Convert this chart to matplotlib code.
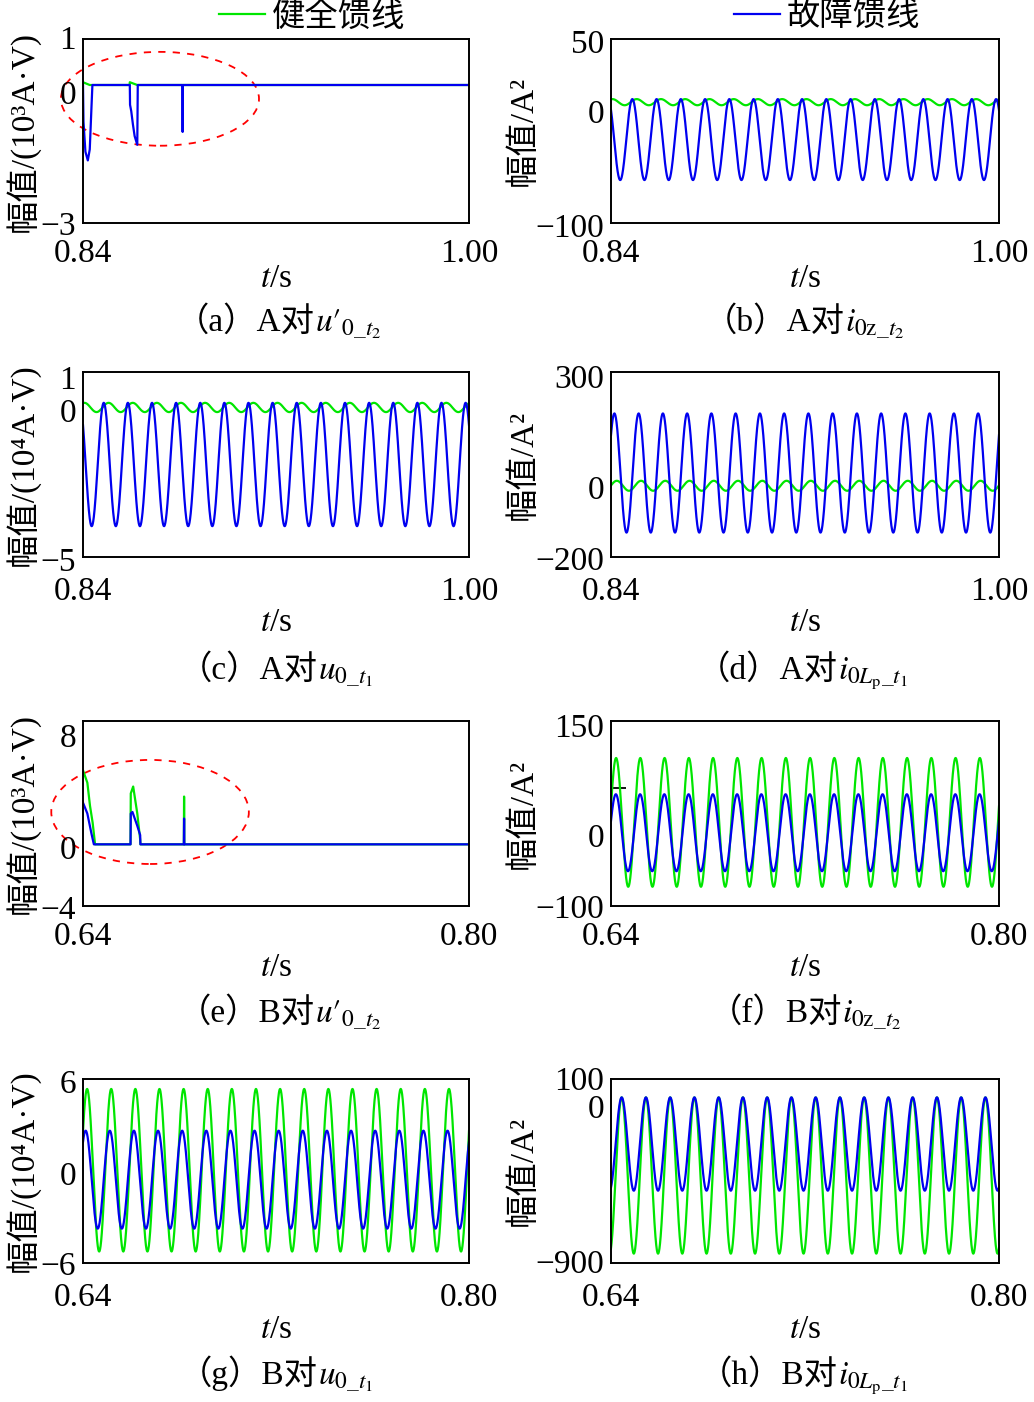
import numpy as np
import matplotlib
matplotlib.use("Agg")
import matplotlib.pyplot as plt
import matplotlib.transforms as mtransforms
from matplotlib.patches import Ellipse
from matplotlib.lines import Line2D

plt.rcParams['font.family'] = ['Liberation Serif', 'Noto Sans CJK SC', 'DejaVu Sans']
plt.rcParams['mathtext.fontset'] = 'stix'
plt.rcParams['font.size'] = 24

GREEN = '#00e600'
BLUE = '#0000f0'

period = 0.01  # both feeders oscillate at 100 Hz

# (a) A, u'0_t2 : read as polylines
a_fault_t = [0.8400, 0.8402, 0.8410, 0.8420, 0.8428, 0.8435, 0.8439, 0.8594, 0.8595,
             0.8600, 0.8607, 0.8614, 0.8625, 0.8627, 0.8812, 0.8813, 0.8814, 1.0000]
a_fault_v = [0, -0.8, -1.45, -1.64, -1.4, -0.5, 0, 0, -0.43,
             -0.57, -0.86, -1.11, -1.30, 0, 0, -1.02, 0, 0]
a_healthy_t = [0.8400, 0.8428, 0.8593, 0.8594, 0.8625, 1.0000]
a_healthy_v = [0.06, 0, 0, 0.06, 0, 0]

# (e) B, u'0_t2
e_healthy_t = [0.6400, 0.6418, 0.6429, 0.6440, 0.6450, 0.6597, 0.6598, 0.6608, 0.6625,
               0.6637, 0.6638, 0.6818, 0.6819, 0.6820, 0.8000]
e_healthy_v = [4.8, 4.0, 2.5, 1.4, 0, 0, 3.3, 3.75, 2.0, 0.3, 0, 0, 3.1, 0, 0]
e_fault_t = [0.6400, 0.6418, 0.6435, 0.6445, 0.6597, 0.6598, 0.6605, 0.6625, 0.6637,
             0.6638, 0.6818, 0.6819, 0.6820, 0.8000]
e_fault_v = [2.7, 2.0, 0.7, 0, 0, 2.0, 2.1, 1.2, 0.6, 0, 0, 1.67, 0, 0]

# periodic panels: first crest time, crest value, trough value  [healthy, fault]
b_tc, b_hi, b_lo = [0.8506, 0.8488], [1, 1], [-4, -65]
c_tc, c_hi, c_lo = [0.8506, 0.8486], [0, 0], [-0.3, -4]
d_tc, d_hi, d_lo = [0.8424, 0.8414], [6, 188], [-21, -134]
f_tc, f_hi, f_lo = [0.6421, 0.6420], [100, 51], [-74, -53]
g_tc, g_hi, g_lo = [0.6417, 0.6411], [5.35, 2.63], [-5.25, -3.76]
h_tc, h_hi, h_lo = [0.6444, 0.6444], [0, 0], [-849, -507]

ylims = {'a': (-3, 1), 'b': (-100, 50), 'c': (-5, 1), 'd': (-200, 300),
         'e': (-4, 8), 'f': (-100, 150), 'g': (-6, 6), 'h': (-900, 100)}

cap_prefix = {'a': '（a）A对', 'b': '（b）A对', 'c': '（c）A对', 'd': '（d）A对',
              'e': '（e）B对', 'f': '（f）B对', 'g': '（g）B对', 'h': '（h）B对'}
cap_math = {
    'a': r"$u\prime_{0\_t_2}$",
    'b': r"$i_{0\mathrm{z}\_t_2}$",
    'c': r"$u_{0\_t_1}$",
    'd': r"$i_{0L_{\mathrm{p}}\_t_1}$",
    'e': r"$u\prime_{0\_t_2}$",
    'f': r"$i_{0\mathrm{z}\_t_2}$",
    'g': r"$u_{0\_t_1}$",
    'h': r"$i_{0L_{\mathrm{p}}\_t_1}$",
}

W, H = 1034, 1402
fig = plt.figure(figsize=(W / 100, H / 100), dpi=100)

col_left = [83, 611]
col_w = [386, 388]
row_top = [39, 372, 721, 1079]
row_h = [184, 185, 185, 184]
xlab_off = [56, 66, 62, 67]
xtick_pad = [11, 14, 11, 14]
cap_base = [331, 679, 1022, 1384]
cap_join = {'a': 315, 'b': 845, 'c': 318, 'd': 838,
            'e': 315, 'f': 842, 'g': 318, 'h': 838}
# downward pixel nudges of the y tick labels (bottom, zero, top), as in the source figure
label_dy = {'a': (0, 7, -2), 'b': (2, 11, 2), 'c': (2, 7, 5), 'd': (1, 4, 4),
            'e': (1, 3, 14), 'f': (0, 3, 4), 'g': (0, 2, 2), 'h': (-2, 9, -1)}


def wave(t0, tc, hi, lo):
    t = np.linspace(t0, t0 + 0.16, 4000)
    return t, lo + (hi - lo) * 0.5 * (1 + np.cos(2 * np.pi * (t - tc) / period))


axes = {}
for i, key in enumerate('abcdefgh'):
    r, c = i // 2, i % 2
    left = col_left[c] / W
    bottom = 1 - (row_top[r] + row_h[r]) / H
    ax = fig.add_axes([left, bottom, col_w[c] / W, row_h[r] / H])
    axes[key] = ax
    t0 = 0.84 if r < 2 else 0.64

    if key == 'a':
        ax.plot(a_healthy_t, a_healthy_v, color=GREEN, lw=1.6)
        ax.plot(a_fault_t, a_fault_v, color=BLUE, lw=1.6)
    elif key == 'e':
        ax.plot(e_healthy_t, e_healthy_v, color=GREEN, lw=1.6)
        ax.plot(e_fault_t, e_fault_v, color=BLUE, lw=1.6)
    else:
        tc, hi, lo = {'b': (b_tc, b_hi, b_lo), 'c': (c_tc, c_hi, c_lo),
                      'd': (d_tc, d_hi, d_lo), 'f': (f_tc, f_hi, f_lo),
                      'g': (g_tc, g_hi, g_lo), 'h': (h_tc, h_hi, h_lo)}[key]
        for k, col in enumerate([GREEN, BLUE]):
            t, y = wave(t0, tc[k], hi[k], lo[k])
            ax.plot(t, y, color=col, lw=1.6)

    ax.set_xlim(t0, t0 + 0.16)
    lo_lim, hi_lim = ylims[key]
    ax.set_ylim(lo_lim, hi_lim)
    ax.set_xticks([t0, t0 + 0.16])
    ax.set_xticklabels(['%.2f' % t0, '%.2f' % (t0 + 0.16)])
    ax.set_yticks([lo_lim, 0, hi_lim])
    ax.set_yticklabels([('%d' % lo_lim).replace('-', '−'), '0', '%d' % hi_lim])
    ax.tick_params(axis='both', which='major', length=0, labelsize=24)
    ax.tick_params(axis='y', which='major', pad=5)
    ax.tick_params(axis='x', which='major', pad=xtick_pad[r])
    for lab, dy in zip(ax.get_yticklabels(), label_dy[key]):
        shift = mtransforms.ScaledTranslation(0, -dy / 100, fig.dpi_scale_trans)
        lab.set_transform(lab.get_transform() + shift)
    # short inward tick mark
    ax.set_yticks([60 if key == 'f' else 0], minor=True)
    ax.tick_params(axis='y', which='minor', direction='in', length=11, width=1.3)
    for s in ax.spines.values():
        s.set_linewidth(1.4)

    ax.set_xlabel('$t$/s', fontsize=24, va='center')
    ax.xaxis.set_label_coords(0.5, -xlab_off[r] / row_h[r])
    if c == 0:
        ax.set_ylabel('幅值/(10%sA·V)' % ('³' if key in 'ae' else '⁴'), fontsize=24, va='center')
        ax.yaxis.set_label_coords(-61 / col_w[c], 0.5)
    else:
        ax.set_ylabel('幅值/A²', fontsize=24, va='center')
        ax.yaxis.set_label_coords(-88 / col_w[c], 0.5)

    yb = 1 - cap_base[r] / H
    fig.text(cap_join[key] / W, yb, cap_prefix[key], ha='right', va='baseline', fontsize=24)
    fig.text(cap_join[key] / W, yb, cap_math[key], ha='left', va='baseline', fontsize=24)

# red dashed marks around the transient pulses
axes['a'].add_patch(Ellipse((0.8719, -0.30), 0.0821, 2.04, fill=False, ec='red',
                            ls=(0, (4, 4)), lw=1.3, clip_on=False))
axes['e'].add_patch(Ellipse((0.6678, 2.1), 0.0819, 6.75, fill=False, ec='red',
                            ls=(0, (4, 4)), lw=1.3, clip_on=False))

h1 = Line2D([], [], color=GREEN, lw=1.6)
h2 = Line2D([], [], color=BLUE, lw=1.6)
fig.legend([h1], ['健全馈线'], loc='center', bbox_to_anchor=(312 / W, 1 - 17 / H),
           frameon=False, handlelength=1.4, handletextpad=0.2, fontsize=24)
fig.legend([h2], ['故障馈线'], loc='center', bbox_to_anchor=(827 / W, 1 - 17 / H),
           frameon=False, handlelength=1.4, handletextpad=0.2, fontsize=24)

fig.savefig('out.png', dpi=100)
